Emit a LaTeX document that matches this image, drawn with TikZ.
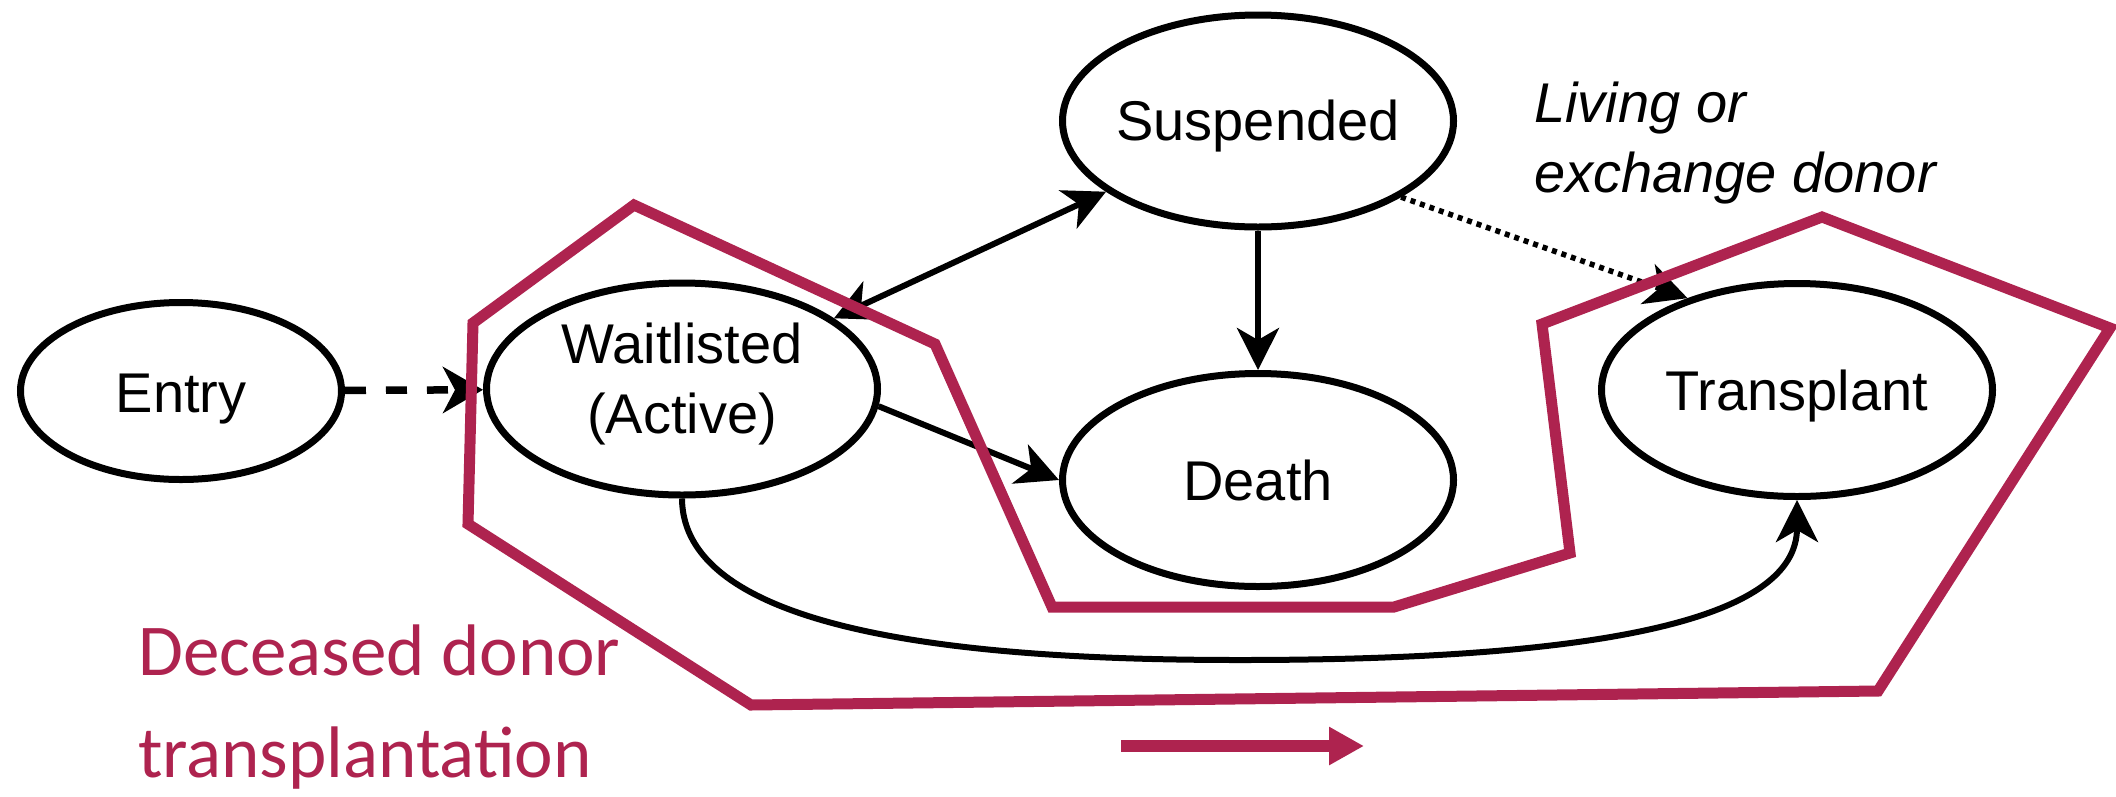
\documentclass[tikz,border=0pt]{standalone}
\usepackage{fontspec}
\setmainfont{Liberation Sans}
\newfontfamily\calfont{Carlito}
\usetikzlibrary{shapes.geometric,arrows.meta}
\definecolor{donorred}{RGB}{174,35,79}

\begin{document}
\begin{tikzpicture}[x=1pt,y=-1pt,
  >={Stealth[length=42pt,width=42pt,inset=12pt]},
  state/.style={ellipse,draw,line width=7pt,inner sep=0pt,
                minimum width=391pt,minimum height=212pt},
  lbl/.style={font=\fontsize{56}{70}\selectfont,align=center,inner sep=0pt},
  link/.style={line width=6pt},
  region/.style={draw=donorred,line width=11pt,line join=miter}
]
\fill[white] (0,0) rectangle (2116,796);
\useasboundingbox (0,0) rectangle (2116,796);

% states
\node[state,minimum width=321pt,minimum height=177pt] (E) at (181,391) {};
\node[state] (W) at (682,389) {};
\node[state] (S) at (1258,121) {};
\node[state,minimum height=213pt] (D) at (1258,480) {};
\node[state,minimum height=213pt] (T) at (1797,390) {};

% state labels
\node[lbl,anchor=base] (Et) at (181,412) {Entry};
\node[lbl] (Wt) at (682,384) {Waitlisted\\(Active)};
\node[lbl,anchor=base] (St) at (1258,140) {Suspended};
\node[lbl,anchor=base] (Dt) at (1258,500) {Death};
\node[lbl,anchor=base] (Tt) at (1797,410) {Transplant};

% transitions
\draw[line width=7.5pt,dash pattern=on 21pt off 20pt,
      -{Stealth[length=40pt,width=46pt,inset=12pt]}] (E) -- (W);
\draw[link,<->] (W) -- (S);
\draw[link,->] (W.-5) -- (D.west);
\draw[link,->] (S) -- (D);
\draw[line width=5.5pt,dash pattern=on 5pt off 5pt,->] (S.-28) -- (T.140);
\draw[link,->] (W.south) .. controls (683,640) and (1000,660) .. (1240,660)
                         .. controls (1600,660) and (1797,620) .. (T.south);

% living donor note
\node[font=\fontsize{56}{70}\selectfont\itshape,align=left,anchor=west,inner sep=0pt]
  (liv) at (1534,143) {Living or\\exchange donor};

% deceased donor pathway
\draw[region] (634,205) -- (935,344) -- (1052,607) -- (1394,607) -- (1570,553)
  -- (1542,324) -- (1822,217) -- (2110,328) -- (1878,691) -- (751,705)
  -- (468,524) -- (473,323) -- cycle;
\node[font=\calfont\fontsize{73}{102}\selectfont,text=donorred,align=left,
      anchor=west,inner sep=0pt] (dec) at (138,707) {Deceased donor\\transplantation};
\coordinate (ra) at (1121,746);
\coordinate (rb) at (1364,746);
\draw[donorred,line width=12pt,-{Triangle[length=35pt,width=36pt]}] (ra) -- (rb);
\end{tikzpicture}
\end{document}
